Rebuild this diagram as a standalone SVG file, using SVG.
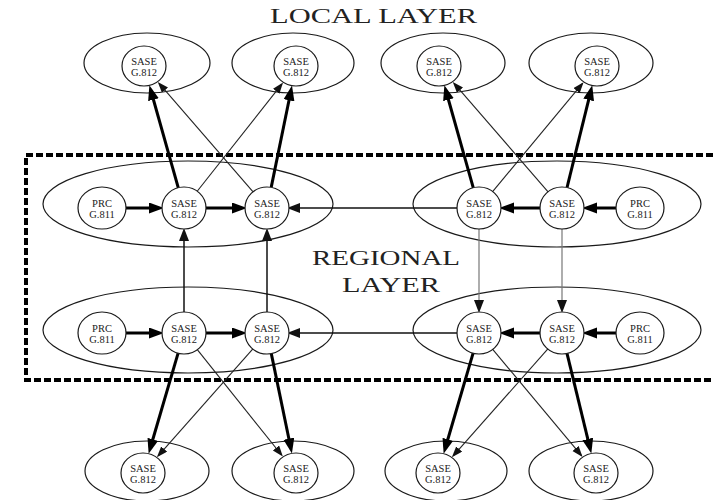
<svg xmlns="http://www.w3.org/2000/svg" width="713" height="500" viewBox="0 0 713 500">
  <style>
    .cluster { fill: none; stroke: #1a1a1a; stroke-width: 1.2; }
    .node { fill: #fff; stroke: #1a1a1a; stroke-width: 1.2; }
    .lbl { font-family: "Liberation Serif", "Times New Roman", serif; font-size: 10.5px; fill: #222; text-anchor: middle; }
    .title { font-family: "Liberation Serif", "Times New Roman", serif; font-size: 22px; fill: #222; }
    .thick { stroke: #000; stroke-width: 3; fill: none; marker-end: url(#ahBig); }
    .thin { stroke: #222; stroke-width: 1.1; fill: none; marker-end: url(#ahSmall); }
    .mid { stroke: #111; stroke-width: 1.5; fill: none; marker-end: url(#ahMid); }
    .grey { stroke: #777; stroke-width: 1.2; fill: none; marker-end: url(#ahMid); }
    .plain { stroke: #222; stroke-width: 1.2; fill: none; }
    .layer { fill: none; stroke: #000; stroke-width: 4; stroke-dasharray: 7 3; }
  </style>
  <defs>
    <marker id="ahBig" markerUnits="userSpaceOnUse" markerWidth="16" markerHeight="12" refX="9" refY="5.5" orient="auto">
      <path d="M0,0 L15,5.5 L0,11 z" fill="#000"/>
    </marker>
    <marker id="ahMid" markerUnits="userSpaceOnUse" markerWidth="14" markerHeight="11" refX="10" refY="5" orient="auto">
      <path d="M0,0 L13,5 L0,10 z" fill="#111"/>
    </marker>
    <marker id="ahSmall" markerUnits="userSpaceOnUse" markerWidth="13" markerHeight="10" refX="9" refY="4" orient="auto">
      <path d="M0,0 L11,4 L0,8 z" fill="#111"/>
    </marker>
  </defs>
  <rect width="713" height="500" fill="#fff"/>

  <!-- layer titles -->
  <text class="title" x="270" y="23" textLength="207" lengthAdjust="spacingAndGlyphs">LOCAL LAYER</text>
  <text class="title" x="312" y="265" textLength="148" lengthAdjust="spacingAndGlyphs">REGIONAL</text>
  <text class="title" x="342" y="292" textLength="98" lengthAdjust="spacingAndGlyphs">LAYER</text>

  <!-- regional layer boundary -->
  <path class="layer" d="M713,155 L26,155 L26,380 L713,380"/>

  <!-- site clusters -->
  <g id="clusters">
    <ellipse class="cluster" cx="147" cy="63" rx="63" ry="30"/>
    <ellipse class="cluster" cx="293" cy="63" rx="61" ry="30"/>
    <ellipse class="cluster" cx="443" cy="63" rx="62" ry="30"/>
    <ellipse class="cluster" cx="591" cy="63" rx="62" ry="30"/>
    <ellipse class="cluster" cx="188" cy="204" rx="145" ry="43"/>
    <ellipse class="cluster" cx="557" cy="204" rx="144" ry="43"/>
    <ellipse class="cluster" cx="188" cy="330" rx="145" ry="43"/>
    <ellipse class="cluster" cx="557" cy="330" rx="144" ry="43"/>
    <ellipse class="cluster" cx="147" cy="471" rx="62" ry="30"/>
    <ellipse class="cluster" cx="293" cy="471" rx="61" ry="30"/>
    <ellipse class="cluster" cx="446" cy="471" rx="61" ry="30"/>
    <ellipse class="cluster" cx="591" cy="471" rx="62" ry="30"/>
  </g>

  <g id="connectors">
    <!-- regional upper to local top -->
    <line class="thick" x1="178.3" y1="187.8" x2="151" y2="91"/>
    <line class="thin" x1="253.3" y1="192.1" x2="159.1" y2="83.4"/>
    <line class="thin" x1="197" y1="191.5" x2="281.8" y2="84.1"/>
    <line class="thick" x1="271.2" y1="187.4" x2="290.8" y2="91.5"/>
    <line class="thick" x1="473.3" y1="187.8" x2="446" y2="91"/>
    <line class="thin" x1="548.3" y1="192.1" x2="454.1" y2="83.4"/>
    <line class="thin" x1="492.4" y1="191.8" x2="582.3" y2="83.7"/>
    <line class="thick" x1="567" y1="187.6" x2="590.8" y2="91.2"/>
    <!-- regional lower to local bottom -->
    <line class="thick" x1="178.1" y1="353.2" x2="150.3" y2="448"/>
    <line class="thin" x1="253.1" y1="348.7" x2="158.2" y2="455.8"/>
    <line class="thin" x1="197.1" y1="349.4" x2="281.6" y2="455"/>
    <line class="thick" x1="271.3" y1="353.6" x2="290.7" y2="447.5"/>
    <line class="thick" x1="473.1" y1="353.2" x2="445.3" y2="448"/>
    <line class="thin" x1="548.1" y1="348.7" x2="453.2" y2="455.8"/>
    <line class="thin" x1="492.5" y1="349.1" x2="581.3" y2="455.4"/>
    <line class="thick" x1="567" y1="353.4" x2="589.9" y2="447.7"/>
    <!-- regional upper row -->
    <line class="thick" x1="126" y1="208" x2="158" y2="208"/>
    <line class="thick" x1="206" y1="208" x2="241" y2="208"/>
    <line class="mid" x1="457" y1="208" x2="290" y2="208"/>
    <line class="thick" x1="616" y1="208" x2="588" y2="208"/>
    <line class="thick" x1="540" y1="208" x2="505" y2="208"/>
    <!-- regional lower row -->
    <line class="thick" x1="126" y1="333" x2="158" y2="333"/>
    <line class="thick" x1="206" y1="333" x2="241" y2="333"/>
    <line class="mid" x1="457" y1="333" x2="290" y2="333"/>
    <line class="thick" x1="616" y1="333" x2="588" y2="333"/>
    <line class="thick" x1="540" y1="333" x2="505" y2="333"/>
    <!-- between regional rows -->
    <line class="mid" x1="184" y1="312" x2="184" y2="231"/>
    <line class="mid" x1="267" y1="312" x2="267" y2="231"/>
    <line class="grey" x1="479" y1="229" x2="479" y2="310"/>
    <line class="grey" x1="562" y1="229" x2="562" y2="310"/>
  </g>

  <!-- local layer, top -->
  <g id="localTop1"><ellipse class="node" cx="144" cy="66" rx="22" ry="20"/><text class="lbl" x="144" y="65">SASE</text><text class="lbl" x="144" y="76">G.812</text></g>
  <g id="localTop2"><ellipse class="node" cx="296" cy="66" rx="22" ry="20"/><text class="lbl" x="296" y="65">SASE</text><text class="lbl" x="296" y="76">G.812</text></g>
  <g id="localTop3"><ellipse class="node" cx="439" cy="66" rx="22" ry="20"/><text class="lbl" x="439" y="65">SASE</text><text class="lbl" x="439" y="76">G.812</text></g>
  <g id="localTop4"><ellipse class="node" cx="597" cy="66" rx="22" ry="20"/><text class="lbl" x="597" y="65">SASE</text><text class="lbl" x="597" y="76">G.812</text></g>

  <!-- regional layer, upper row -->
  <g id="prcUpL"><ellipse class="node" cx="102" cy="208" rx="24" ry="21"/><text class="lbl" x="102" y="207">PRC</text><text class="lbl" x="102" y="218">G.811</text></g>
  <g id="saseUpL1"><ellipse class="node" cx="184" cy="208" rx="22" ry="21"/><text class="lbl" x="184" y="207">SASE</text><text class="lbl" x="184" y="218">G.812</text></g>
  <g id="saseUpL2"><ellipse class="node" cx="267" cy="208" rx="22" ry="21"/><text class="lbl" x="267" y="207">SASE</text><text class="lbl" x="267" y="218">G.812</text></g>
  <g id="saseUpR1"><ellipse class="node" cx="479" cy="208" rx="22" ry="21"/><text class="lbl" x="479" y="207">SASE</text><text class="lbl" x="479" y="218">G.812</text></g>
  <g id="saseUpR2"><ellipse class="node" cx="562" cy="208" rx="22" ry="21"/><text class="lbl" x="562" y="207">SASE</text><text class="lbl" x="562" y="218">G.812</text></g>
  <g id="prcUpR"><ellipse class="node" cx="640" cy="208" rx="24" ry="21"/><text class="lbl" x="640" y="207">PRC</text><text class="lbl" x="640" y="218">G.811</text></g>

  <!-- regional layer, lower row -->
  <g id="prcLoL"><ellipse class="node" cx="102" cy="333" rx="24" ry="21"/><text class="lbl" x="102" y="332">PRC</text><text class="lbl" x="102" y="343">G.811</text></g>
  <g id="saseLoL1"><ellipse class="node" cx="184" cy="333" rx="22" ry="21"/><text class="lbl" x="184" y="332">SASE</text><text class="lbl" x="184" y="343">G.812</text></g>
  <g id="saseLoL2"><ellipse class="node" cx="267" cy="333" rx="22" ry="21"/><text class="lbl" x="267" y="332">SASE</text><text class="lbl" x="267" y="343">G.812</text></g>
  <g id="saseLoR1"><ellipse class="node" cx="479" cy="333" rx="22" ry="21"/><text class="lbl" x="479" y="332">SASE</text><text class="lbl" x="479" y="343">G.812</text></g>
  <g id="saseLoR2"><ellipse class="node" cx="562" cy="333" rx="22" ry="21"/><text class="lbl" x="562" y="332">SASE</text><text class="lbl" x="562" y="343">G.812</text></g>
  <g id="prcLoR"><ellipse class="node" cx="640" cy="333" rx="24" ry="21"/><text class="lbl" x="640" y="332">PRC</text><text class="lbl" x="640" y="343">G.811</text></g>

  <!-- local layer, bottom -->
  <g id="localBot1"><ellipse class="node" cx="143" cy="473" rx="22" ry="20"/><text class="lbl" x="143" y="472">SASE</text><text class="lbl" x="143" y="483">G.812</text></g>
  <g id="localBot2"><ellipse class="node" cx="296" cy="473" rx="22" ry="20"/><text class="lbl" x="296" y="472">SASE</text><text class="lbl" x="296" y="483">G.812</text></g>
  <g id="localBot3"><ellipse class="node" cx="438" cy="473" rx="22" ry="20"/><text class="lbl" x="438" y="472">SASE</text><text class="lbl" x="438" y="483">G.812</text></g>
  <g id="localBot4"><ellipse class="node" cx="596" cy="473" rx="22" ry="20"/><text class="lbl" x="596" y="472">SASE</text><text class="lbl" x="596" y="483">G.812</text></g>
</svg>
